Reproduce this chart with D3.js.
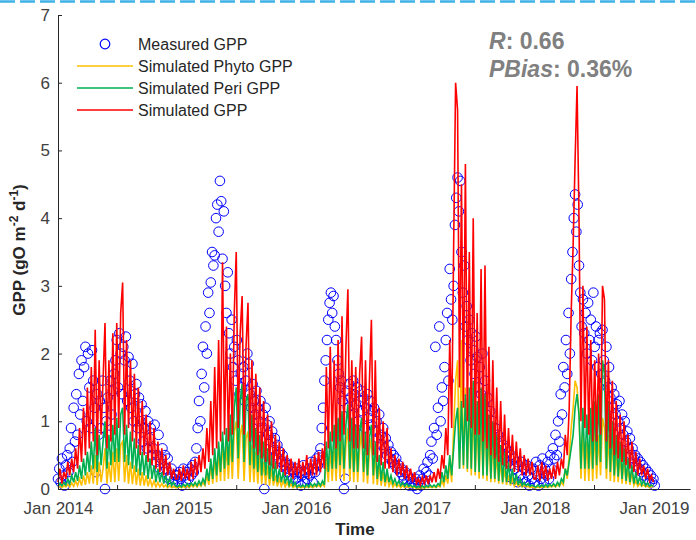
<!DOCTYPE html>
<html>
<head>
<meta charset="utf-8">
<script src="https://cdn.jsdelivr.net/npm/d3@7"></script>
<style>
body{margin:0;background:#fff;}
svg{font-family:"Liberation Sans",Arial,Helvetica,sans-serif;}
</style>
</head>
<body>
<div id="vis-container"></div>
<script>
// measured GPP, one reading every 4 days from 1 Jan 2014
let measured = [
0.15,0.3,0.1,0.45,0.2,0.05,0.35,0.5,0.25,0.6,
0.9,0.4,1.2,0.7,1.4,0.8,1.7,1.1,1.9,1.3,
1.8,2.1,1.0,2.0,1.5,0.9,2.05,1.6,1.2,0.25,
1.4,0.8,1.3,0.9,1.6,1.2,0.0,1.0,1.35,0.8,
1.6,1.1,1.45,1.7,1.9,2.2,1.5,2.3,2.0,1.4,
2.1,1.9,2.25,1.3,1.95,1.6,1.2,1.85,1.0,1.4,
1.55,0.9,1.35,1.0,1.25,0.7,0.9,1.15,0.6,1.0,
0.75,0.9,0.5,0.6,0.95,0.4,0.5,0.8,0.3,0.45,
0.6,0.25,0.5,0.3,0.45,0.15,0.2,0.3,0.1,0.15,0.2,
0.2,0.1,0.25,0.15,0.05,0.3,0.2,0.1,0.25,0.15,
0.3,0.2,0.35,0.25,0.4,0.6,0.9,1.3,1.0,1.7,
2.1,1.5,2.4,2.0,2.9,2.6,3.05,3.5,3.3,3.45,
4.0,4.2,3.8,4.55,4.25,3.4,4.1,3.0,2.6,3.2,
2.3,2.0,2.5,1.8,2.1,1.6,2.2,1.9,1.4,1.7,
1.5,1.8,1.3,1.6,2.0,1.85,1.4,1.2,1.55,1.3,
1.1,1.45,1.2,1.0,1.3,0.9,1.1,0.0,1.2,0.95,
0.8,1.0,0.7,0.85,0.6,0.75,0.5,0.65,0.45,0.55,
0.4,0.5,0.35,0.4,0.3,0.25,0.35,0.2,0.3,0.15,0.25,
0.15,0.3,0.1,0.25,0.05,0.2,0.35,0.1,0.25,0.15,
0.3,0.2,0.4,0.1,0.3,0.25,0.45,0.35,0.5,0.6,
0.9,1.2,1.6,1.9,2.2,2.5,2.75,2.9,2.6,2.85,
2.4,2.2,1.9,1.7,1.5,1.6,1.3,0.0,0.15,1.45,
1.2,1.55,1.35,1.1,1.6,1.4,1.25,1.5,1.0,1.3,
1.45,1.15,1.35,0.9,1.2,1.4,1.05,1.3,0.95,1.15,
1.2,0.85,1.0,0.75,1.1,0.8,0.65,0.9,0.6,0.75,
0.5,0.65,0.45,0.55,0.4,0.5,0.35,0.45,0.3,0.35,
0.25,0.3,0.2,0.15,0.25,0.1,0.2,0.05,0.15,0.1,0.05,
0.05,0.15,0.0,0.1,0.2,0.05,0.15,0.3,0.1,0.25,
0.4,0.2,0.5,0.7,0.45,0.9,2.1,0.8,1.2,2.4,
1.0,1.5,1.3,1.8,2.2,2.6,1.6,3.25,2.8,2.5,
3.0,3.9,4.3,4.6,4.1,4.55,3.5,2.9,3.3,2.4,
2.7,2.2,2.5,1.9,2.3,2.05,1.7,2.25,1.95,1.5,
1.8,1.4,2.0,1.25,1.6,1.1,1.35,0.9,1.15,0.8,
1.0,0.7,0.9,0.6,0.8,0.55,0.7,0.5,0.65,0.45,
0.6,0.4,0.55,0.35,0.5,0.15,0.45,0.3,0.4,0.1,
0.35,0.2,0.4,0.15,0.3,0.1,0.35,0.2,0.05,0.3,0.15,
0.3,0.1,0.4,0.2,0.05,0.35,0.15,0.45,0.1,0.3,
0.2,0.4,0.15,0.5,0.3,0.6,0.45,0.8,0.5,1.0,
0.7,1.4,1.1,1.8,1.5,2.2,1.7,2.6,2.0,3.1,
3.5,4.0,4.35,3.8,4.2,3.3,2.9,2.4,2.8,2.3,
2.6,2.0,2.75,2.2,2.5,1.9,2.9,2.1,2.4,1.8,
2.2,2.3,1.7,2.35,1.9,1.6,2.1,1.5,1.8,1.35,
1.5,1.2,1.4,1.1,1.25,1.0,1.3,0.9,1.1,0.8,
1.0,0.7,0.85,0.6,0.75,0.5,0.6,0.45,0.5,0.35,
0.45,0.3,0.4,0.25,0.35,0.2,0.3,0.15,0.25,0.1,0.2,0.1,0.15,0.05
];

// simulated series, one value every 6 days from 1 Jan 2014
let simPhyto = [
0.02,0.04,0.02,0.05,0.03,0.07,0.03,0.09,0.04,0.12,
0.05,0.15,0.05,0.2,0.06,0.25,0.08,0.35,0.08,0.5,
0.06,0.4,0.1,0.3,0.6,0.08,0.4,0.1,0.55,0.1,
0.6,0.12,0.65,0.7,0.1,0.5,0.08,0.4,0.07,0.35,
0.06,0.3,0.05,0.25,0.05,0.2,0.04,0.15,0.04,0.12,
0.03,0.1,0.03,0.08,0.03,0.06,0.02,0.05,0.02,0.04,0.02,
0.02,0.03,0.02,0.04,0.02,0.05,0.02,0.06,0.03,0.07,
0.03,0.08,0.04,0.1,0.05,0.2,0.06,0.35,0.08,0.45,
0.1,0.55,0.12,0.75,0.12,0.65,0.15,0.75,0.15,0.85,
1.0,0.15,0.8,0.95,0.12,0.75,0.85,0.1,0.65,0.1,
0.55,0.08,0.5,0.07,0.4,0.06,0.35,0.05,0.3,0.05,
0.2,0.04,0.15,0.04,0.12,0.03,0.1,0.03,0.07,0.02,0.05,
0.02,0.03,0.02,0.03,0.02,0.04,0.02,0.04,0.02,0.05,
0.03,0.06,0.03,0.07,0.04,0.45,0.1,0.6,0.12,0.65,
0.12,0.75,0.15,0.8,0.12,0.65,0.9,0.12,0.75,0.1,
0.7,0.1,0.6,0.85,0.1,0.65,0.08,0.55,0.75,0.07,
0.5,0.06,0.35,0.05,0.25,0.04,0.2,0.04,0.12,0.03,
0.08,0.03,0.06,0.02,0.05,0.02,0.04,0.02,0.03,0.02,0.03,
0.01,0.02,0.01,0.03,0.01,0.03,0.02,0.03,0.02,0.04,
0.02,0.05,0.03,0.12,0.05,0.2,0.08,0.4,0.1,0.9,
1.6,1.9,0.3,2.2,0.3,1.5,0.25,1.3,0.2,1.2,
0.2,1.0,0.15,1.1,0.15,1.2,0.12,0.8,0.1,0.7,
0.1,0.5,0.08,0.4,0.07,0.3,0.06,0.2,0.05,0.15,
0.04,0.1,0.04,0.07,0.03,0.05,0.03,0.04,0.02,0.03,0.02,
0.02,0.03,0.02,0.03,0.02,0.04,0.02,0.04,0.03,0.05,
0.03,0.06,0.04,0.1,0.06,0.3,0.15,0.5,0.9,1.2,
1.6,1.5,1.1,0.15,0.9,0.12,0.7,0.12,0.8,0.12,
0.9,0.15,0.8,0.2,1.05,0.9,0.15,0.8,0.12,0.7,
0.1,0.55,0.1,0.5,0.08,0.45,0.07,0.3,0.06,0.25,
0.05,0.12,0.04,0.08,0.04,0.06,0.03,0.05,0.02,0.04,0.03
];

let simPeri = [
0.04,0.08,0.05,0.1,0.06,0.15,0.08,0.2,0.1,0.25,
0.12,0.35,0.15,0.45,0.2,0.55,0.25,0.7,0.3,0.9,
0.25,0.8,0.35,0.7,1.0,0.3,0.8,0.35,0.95,0.4,
1.05,0.4,1.1,1.2,0.4,0.95,0.35,0.85,0.3,0.75,
0.25,0.65,0.2,0.55,0.2,0.5,0.15,0.45,0.15,0.35,
0.1,0.3,0.1,0.25,0.08,0.2,0.06,0.15,0.05,0.1,0.05,
0.03,0.06,0.03,0.07,0.04,0.08,0.04,0.09,0.05,0.1,
0.05,0.12,0.06,0.15,0.08,0.3,0.12,0.45,0.15,0.6,
0.2,0.7,0.25,0.85,0.3,0.9,0.35,1.1,0.4,1.2,
1.5,0.45,1.3,1.55,0.4,1.3,1.4,0.35,1.1,0.3,
0.9,0.25,0.8,0.2,0.7,0.2,0.6,0.15,0.5,0.12,
0.4,0.1,0.3,0.1,0.25,0.08,0.2,0.06,0.15,0.05,0.1,
0.03,0.06,0.03,0.06,0.03,0.07,0.03,0.08,0.04,0.08,
0.04,0.1,0.05,0.12,0.06,0.7,0.25,0.85,0.3,0.95,
0.3,1.05,0.35,1.15,0.3,0.95,1.25,0.3,1.05,0.25,
0.95,0.25,0.85,1.05,0.25,0.85,0.2,0.75,0.95,0.2,
0.7,0.15,0.5,0.12,0.4,0.1,0.3,0.1,0.2,0.08,
0.15,0.06,0.12,0.05,0.1,0.04,0.08,0.04,0.06,0.03,0.05,
0.02,0.04,0.02,0.05,0.02,0.05,0.03,0.06,0.03,0.06,
0.03,0.08,0.05,0.25,0.1,0.35,0.15,0.5,0.2,0.6,
1.0,1.2,0.3,1.3,0.35,1.4,0.3,1.5,0.3,1.6,
0.25,1.3,0.25,1.5,0.2,1.4,0.2,1.1,0.15,1.0,
0.15,0.8,0.12,0.65,0.1,0.55,0.1,0.4,0.08,0.3,
0.07,0.22,0.06,0.15,0.05,0.1,0.05,0.08,0.04,0.06,0.04,
0.03,0.06,0.03,0.06,0.03,0.07,0.03,0.07,0.04,0.08,
0.04,0.1,0.05,0.15,0.1,0.3,0.2,0.4,0.6,0.8,
1.2,1.4,1.1,0.3,1.2,0.3,1.1,0.3,1.2,0.3,
1.3,0.35,1.4,0.4,1.9,1.7,0.3,1.3,0.25,1.0,
0.2,0.8,0.18,0.7,0.15,0.6,0.12,0.45,0.1,0.35,
0.08,0.25,0.07,0.18,0.06,0.12,0.05,0.09,0.04,0.06,0.04
];

let simTotal = [
0.1,0.3,0.08,0.25,0.15,0.4,0.2,0.45,0.25,0.6,
0.3,0.9,0.4,1.2,0.5,1.5,0.6,1.8,0.7,2.35,
0.5,1.9,0.8,1.6,2.45,0.6,1.9,0.7,2.3,0.8,
2.45,0.9,2.6,3.05,0.8,2.2,0.9,1.9,0.7,1.7,
0.6,1.5,0.5,1.3,0.5,1.1,0.4,1.0,0.35,0.9,
0.3,0.7,0.25,0.6,0.2,0.5,0.2,0.4,0.15,0.3,0.15,
0.15,0.3,0.12,0.35,0.15,0.3,0.12,0.4,0.15,0.45,
0.2,0.5,0.25,0.6,0.3,0.9,0.4,1.3,0.5,1.8,
0.6,2.2,0.7,3.35,0.8,2.4,0.7,2.0,0.8,2.6,
3.5,0.9,2.3,2.85,0.8,2.1,2.75,0.7,1.9,0.6,
1.7,0.5,1.5,0.45,1.3,0.4,1.1,0.35,1.0,0.3,
0.8,0.3,0.7,0.25,0.6,0.2,0.5,0.2,0.45,0.15,0.4,
0.2,0.45,0.15,0.4,0.2,0.5,0.15,0.45,0.2,0.5,
0.2,0.55,0.25,0.6,0.3,1.8,0.6,2.1,0.7,1.9,
0.6,2.2,0.7,2.55,0.8,2.1,2.95,0.7,1.9,0.6,
1.8,0.6,1.7,2.25,0.6,1.9,0.5,1.6,2.5,0.5,
1.9,0.4,1.2,0.35,1.0,0.3,0.9,0.3,0.6,0.25,
0.5,0.2,0.45,0.2,0.4,0.15,0.35,0.12,0.3,0.1,0.25,
0.08,0.15,0.06,0.18,0.08,0.2,0.07,0.2,0.1,0.25,
0.1,0.3,0.15,0.5,0.3,0.9,0.5,2.2,0.9,3.6,
6.0,5.6,1.5,4.5,1.2,4.8,1.0,3.5,0.9,4.0,
0.8,2.6,0.8,3.25,0.7,3.3,0.6,2.1,0.5,1.9,
0.45,1.5,0.4,1.3,0.35,1.1,0.3,0.9,0.3,0.8,
0.25,0.7,0.25,0.6,0.2,0.5,0.2,0.45,0.2,0.4,0.15,
0.15,0.35,0.12,0.4,0.15,0.35,0.12,0.3,0.15,0.35,
0.15,0.4,0.2,0.45,0.3,0.8,0.5,1.2,2.6,3.6,
4.85,5.95,4.0,1.0,3.0,0.9,2.4,0.8,2.2,0.7,
1.9,0.7,2.0,0.8,3.0,2.8,0.7,1.9,0.6,1.6,
0.5,1.3,0.45,1.1,0.4,1.0,0.35,0.8,0.3,0.7,
0.25,0.55,0.2,0.45,0.2,0.35,0.15,0.3,0.12,0.2,0.1
];

let yTicks = [0,1,2,3,4,5,6,7];
let labelYears = [2014,2015,2016,2017,2018,2019];
let tickYears = [2014,2015,2016,2017,2018];
let legendNames = ["Measured GPP","Simulated Phyto GPP","Simulated Peri GPP","Simulated GPP"];
let statNames = ["R","PBias"];
let statValues = ["0.66","0.36%"];

let colors = {measured:"#0000ff", phyto:"#ffbf00", peri:"#00b050", total:"#ff0000"};

let svg = d3.select("#vis-container")
  .append("svg")
  .attr("width", 696)
  .attr("height", 540);

// dashed strip along the top
svg.append("line")
  .attr("x1", 0).attr("x2", 696)
  .attr("y1", 1.5).attr("y2", 1.5)
  .attr("stroke", "#3fb1e6")
  .attr("stroke-width", 2.5)
  .attr("stroke-dasharray", "15,5");

let start = new Date(2014,0,1);
let x = d3.scaleTime()
  .domain([start, new Date(2019,3,21)])
  .range([58,690]);
let y = d3.scaleLinear()
  .domain([0,7])
  .range([489,15]);

let measuredDates = measured.map((d,i)=>d3.timeDay.offset(start, i*4));
let simDates = simTotal.map((d,i)=>d3.timeDay.offset(start, i*6));

let g = svg.append("g");

//measured circles
g.selectAll("circle.meas")
  .data(measured)
  .enter()
  .append("circle")
  .attr("class","meas")
  .attr("cx", (d,i)=>x(measuredDates[i]))
  .attr("cy", d=>y(d))
  .attr("r", 4.8)
  .attr("fill","none")
  .attr("stroke", colors.measured)
  .attr("stroke-width", 1);

let line = d3.line()
  .x((d,i)=>x(simDates[i]))
  .y(d=>y(d));

[[simPhyto,colors.phyto],[simPeri,colors.peri],[simTotal,colors.total]].forEach(s=>{
  g.append("path")
    .datum(s[0])
    .attr("d", line)
    .attr("fill","none")
    .attr("stroke", s[1])
    .attr("stroke-width", 1.6)
    .attr("stroke-linejoin","miter");
});

//left axis
let leftAxis = d3.axisLeft(y)
  .tickValues(yTicks)
  .tickFormat(d3.format("d"))
  .tickSizeInner(-4)
  .tickSizeOuter(0)
  .tickPadding(8);
let gy = svg.append("g")
  .attr("transform","translate(58,0)")
  .call(leftAxis);

//bottom axis: labels on January, ticks mid-year
let bottomLabels = d3.axisBottom(x)
  .tickValues(labelYears.map(yr=>new Date(yr,0,1)))
  .tickFormat(d3.timeFormat("Jan %Y"))
  .tickSize(0)
  .tickPadding(13);
let gx = svg.append("g")
  .attr("transform","translate(0,489)")
  .call(bottomLabels);

let bottomTicks = d3.axisBottom(x)
  .tickValues(tickYears.map(yr=>new Date(yr,6,1)))
  .tickFormat("")
  .tickSizeInner(-4)
  .tickSizeOuter(0);
let gx2 = svg.append("g")
  .attr("transform","translate(0,489)")
  .call(bottomTicks);

[gy,gx,gx2].forEach(a=>{
  a.selectAll("path,line").attr("stroke","#262626").attr("stroke-width",1);
  a.selectAll("text")
    .attr("fill","#404040")
    .attr("font-size","17px")
    .attr("font-family",'"Liberation Sans",Arial,sans-serif');
});
gx2.select(".domain").remove();

//axis titles
svg.append("text")
  .attr("x", 355)
  .attr("y", 535)
  .attr("text-anchor","middle")
  .attr("font-size","17px")
  .attr("font-weight","bold")
  .attr("fill","#262626")
  .text("Time");

let yl = svg.append("text")
  .attr("transform","translate(25,250) rotate(-90)")
  .attr("text-anchor","middle")
  .attr("font-size","17px")
  .attr("font-weight","bold")
  .attr("fill","#262626");
yl.append("tspan").text("GPP (gO m");
yl.append("tspan").attr("dy",-7).attr("font-size","12px").text("-2");
yl.append("tspan").attr("dy",7).text(" d");
yl.append("tspan").attr("dy",-7).attr("font-size","12px").text("-1");
yl.append("tspan").attr("dy",7).text(")");

//legend
let legend = svg.append("g");
let legendY = [44,66,88,110];
let legendColors = [colors.measured, colors.phyto, colors.peri, colors.total];
legendNames.forEach((name,i)=>{
  if (i===0){
    legend.append("circle")
      .attr("cx",105).attr("cy",legendY[i]).attr("r",4.8)
      .attr("fill","none").attr("stroke",legendColors[i]).attr("stroke-width",1.2);
  } else {
    legend.append("line")
      .attr("x1",77).attr("x2",133)
      .attr("y1",legendY[i]).attr("y2",legendY[i])
      .attr("stroke",legendColors[i]).attr("stroke-width",1.5);
  }
  legend.append("text")
    .attr("x",138)
    .attr("y",legendY[i])
    .attr("dy","0.36em")
    .attr("font-size","16px")
    .attr("fill","#262626")
    .text(name);
});

//fit statistics
let statY = [49,77];
statNames.forEach((n,i)=>{
  let t = svg.append("text")
    .attr("x",489)
    .attr("y",statY[i])
    .attr("font-size","23px")
    .attr("font-weight","bold")
    .attr("fill","#808080");
  t.append("tspan").attr("font-style","italic").text(n);
  t.append("tspan").text(": " + statValues[i]);
});
</script>
</body>
</html>
